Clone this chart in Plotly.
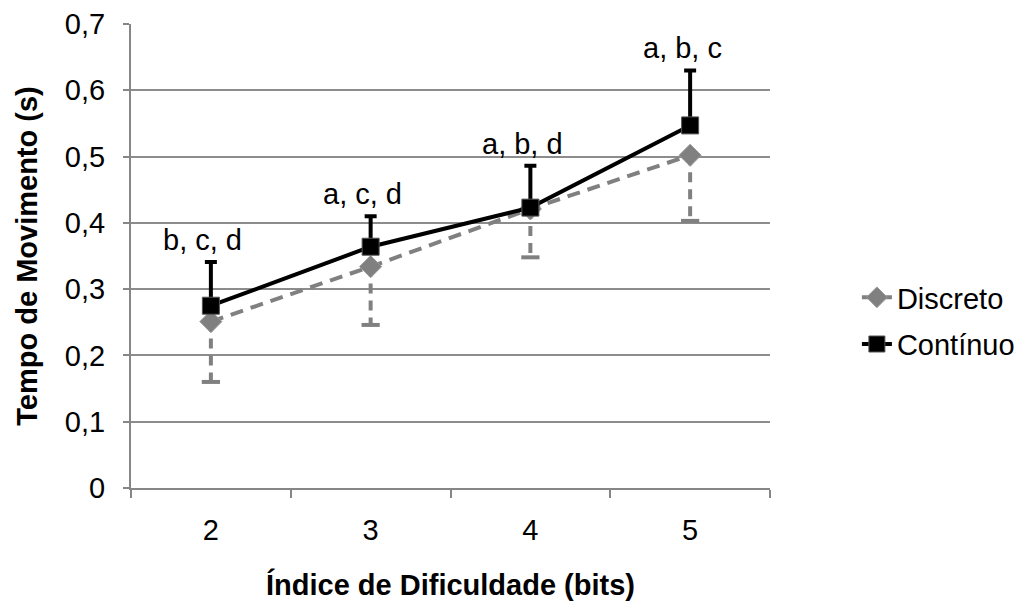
import plotly.graph_objects as go

categories = ["2", "3", "4", "5"]
discreto = [0.251, 0.334, 0.421, 0.502]
discreto_err_minus = [0.091, 0.088, 0.073, 0.099]
continuo = [0.275, 0.364, 0.423, 0.547]
continuo_err_plus = [0.066, 0.046, 0.063, 0.083]
labels = ["b, c, d", "a, c, d", "a, b, d", "a, b, c"]
y_tickvals = [0, 0.1, 0.2, 0.3, 0.4, 0.5, 0.6, 0.7]
y_ticktext = ["0", "0,1", "0,2", "0,3", "0,4", "0,5", "0,6", "0,7"]

FONT = "Liberation Sans, Arial, sans-serif"
GREY = "#808080"

fig = go.Figure()

# Discreto lower error bars (dashed stems + caps), derived from the data
stem_x, stem_y = [], []
for c, v, e in zip(categories, discreto, discreto_err_minus):
    stem_x += [c, c, None]
    stem_y += [v, v - e, None]
fig.add_trace(go.Scatter(
    x=stem_x, y=stem_y, mode="lines",
    line=dict(color=GREY, width=4, dash="10px,7px"),
    showlegend=False, hoverinfo="skip"))
fig.add_trace(go.Scatter(
    x=categories, y=[v - e for v, e in zip(discreto, discreto_err_minus)],
    mode="markers",
    marker=dict(symbol="line-ew", size=13, line=dict(color=GREY, width=4)),
    showlegend=False, hoverinfo="skip"))

fig.add_trace(go.Scatter(
    x=categories, y=discreto, name="Discreto", mode="lines+markers",
    legendgroup="d",
    line=dict(color=GREY, width=4, dash="13px,8px"),
    marker=dict(symbol="diamond", size=17, color=GREY,
                line=dict(color="#9a9a9a", width=1))))

fig.add_trace(go.Scatter(
    x=categories, y=continuo, name="Contínuo", mode="lines+markers",
    legendgroup="c",
    line=dict(color="black", width=4),
    marker=dict(symbol="square", size=17, color="black",
                line=dict(color="#555555", width=1)),
    error_y=dict(type="data", symmetric=False, array=continuo_err_plus,
                 arrayminus=[0] * len(categories), color="black",
                 thickness=4, width=6)))

for i, (v, e, t) in enumerate(zip(continuo, continuo_err_plus, labels)):
    fig.add_annotation(x=i, y=v + e, text=t, showarrow=False,
                       xref="x", yref="y",
                       yanchor="bottom", xshift=-8, yshift=4,
                       font=dict(family=FONT, size=29, color="black"))

fig.update_layout(
    width=1019, height=603,
    margin=dict(l=131, r=249, t=24, b=115, autoexpand=False),
    plot_bgcolor="white", paper_bgcolor="white",
    font=dict(family=FONT, size=29, color="black"),
    legend=dict(x=1.136, y=0.36, xanchor="left", yanchor="middle",
                font=dict(family=FONT, size=29), tracegroupgap=6,
                bgcolor="rgba(0,0,0,0)"),
    xaxis=dict(
        type="category", categoryorder="array", categoryarray=categories,
        range=[-0.5, 3.5], tickson="boundaries", ticks="outside",
        ticklen=8, tickwidth=2, tickcolor="#868686",
        showline=True, linecolor="#868686", linewidth=2,
        showgrid=False, ticklabelstandoff=15, automargin=False,
        tickfont=dict(family=FONT, size=29),
        title=dict(text="<b>Índice de Dificuldade (bits)</b>",
                   font=dict(family=FONT, size=29), standoff=30)),
    yaxis=dict(
        range=[0, 0.7], tickvals=y_tickvals, ticktext=y_ticktext,
        ticks="outside", ticklen=6, tickwidth=2, tickcolor="#868686",
        showline=True, linecolor="#868686", linewidth=2,
        showgrid=True, gridcolor="#8c8c8c", gridwidth=1.5,
        zeroline=False, ticklabelstandoff=12, automargin=False,
        tickfont=dict(family=FONT, size=29),
        title=dict(text="<b>Tempo de Movimento (s)</b>",
                   font=dict(family=FONT, size=29), standoff=19)),
)

fig.write_html("out.html", config={"displayModeBar": False},
               post_script="document.body.style.margin='0px';")
